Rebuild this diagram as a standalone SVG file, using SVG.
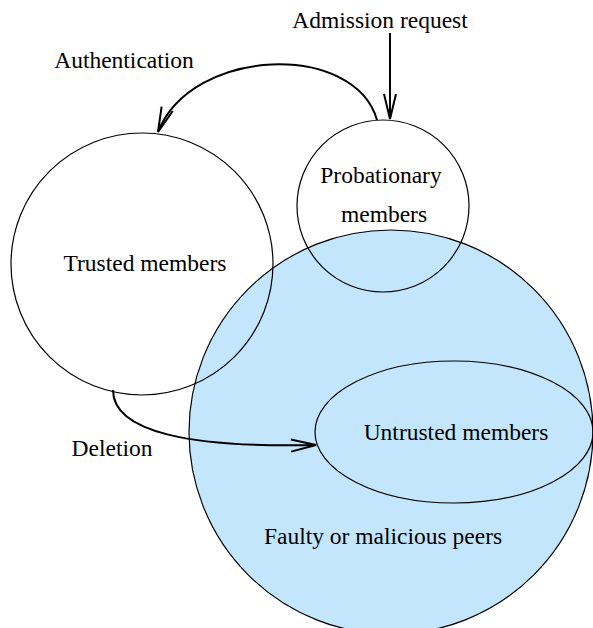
<svg xmlns="http://www.w3.org/2000/svg" width="593" height="628" viewBox="0 0 593 628">
  <style>
    .set { fill: none; stroke: #000; stroke-width: 1.2; }
    .peers { fill: #c4e6fc; stroke: #000; stroke-width: 1.2; }
    .flow { fill: none; stroke: #000; stroke-width: 2; marker-end: url(#open-arrow); }
    text { font-family: "Liberation Serif", "Times New Roman", serif; font-size: 23.5px; fill: #000; text-anchor: middle; }
  </style>
  <defs>
    <marker id="open-arrow" markerUnits="userSpaceOnUse" markerWidth="30" markerHeight="16" viewBox="-27 -8 30 16" refX="0" refY="0" orient="auto">
      <path d="M -25 -6 L 0 0 L -25 6" fill="none" stroke="#000" stroke-width="2"/>
    </marker>
  </defs>

  <!-- faulty / malicious peers region (filled, drawn first so outlines stay on top) -->
  <g id="faulty-peers">
    <circle class="peers" cx="391" cy="432" r="202"/>
    <text x="383" y="544">Faulty or malicious peers</text>
  </g>

  <g id="untrusted-members">
    <ellipse class="set" cx="454" cy="432" rx="139" ry="71"/>
    <text x="456" y="440">Untrusted members</text>
  </g>

  <g id="trusted-members">
    <circle class="set" cx="142" cy="264" r="131"/>
    <text x="145" y="271">Trusted members</text>
  </g>

  <g id="probationary-members">
    <circle class="set" cx="383" cy="206" r="86"/>
    <text x="381" y="183">Probationary</text>
    <text x="384" y="222">members</text>
  </g>

  <g id="connectors">
    <!-- admission request -->
    <path class="flow" d="M 390 33 L 390 119"/>
    <text x="380" y="28">Admission request</text>
    <!-- authentication: probationary to trusted -->
    <path class="flow" d="M 377 120 C 355 42, 192 46, 158 132"/>
    <text x="124" y="68">Authentication</text>
    <!-- deletion: trusted to untrusted -->
    <path class="flow" d="M 113 390 C 113 432, 190 448, 316 445"/>
    <text x="112" y="456">Deletion</text>
  </g>
</svg>
